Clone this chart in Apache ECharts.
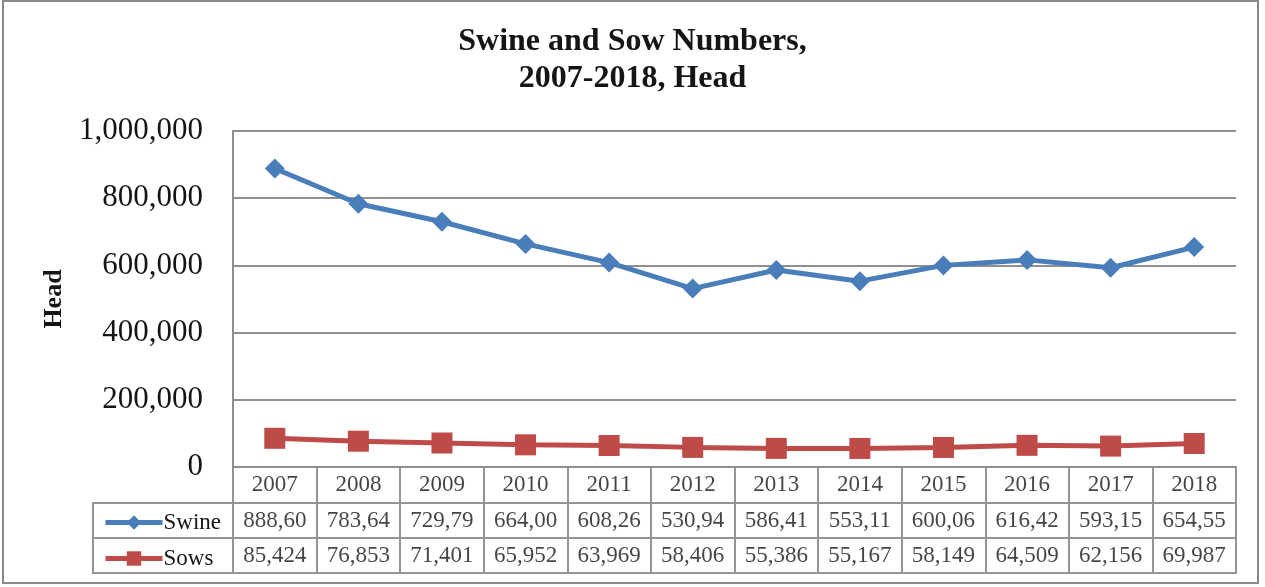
<!DOCTYPE html>
<html>
<head>
<meta charset="utf-8">
<script src="https://cdn.jsdelivr.net/npm/echarts@6/dist/echarts.min.js"></script>
<style>
  html, body { margin: 0; padding: 0; background: #fff; }
  #chart { width: 1265px; height: 587px; }
</style>
</head>
<body>
<div id="chart"></div>
<script>
// Annual head counts
const years = ['2007', '2008', '2009', '2010', '2011', '2012', '2013', '2014', '2015', '2016', '2017', '2018'];
const swine = [888600, 783640, 729790, 664000, 608260, 530940, 586410, 553110, 600060, 616420, 593150, 654550];
const sows = [85424, 76853, 71401, 65952, 63969, 58406, 55386, 55167, 58149, 64509, 62156, 69987];
const yTicks = [0, 200000, 400000, 600000, 800000, 1000000];

const FONT = '"Liberation Serif", "Times New Roman", serif';
const INK = '#151515';
const RULE = '#8f8f8f';
const CELL = '#959595';
const BLUE = '#4a7ebb';
const RED = '#be4b48';

const fmt = v => Math.round(v).toLocaleString('en-US');

const plotLeft = 233, plotRight = 1236, plotTop = 131, plotBottom = 467;
const rowH = [36, 35, 35];
const rowTop = [plotBottom, plotBottom + rowH[0], plotBottom + rowH[0] + rowH[1]];

// one grid per table row, sharing the category columns of the plot
const tableGrids = rowTop.map((t, i) => ({
  left: plotLeft, width: plotRight - plotLeft, top: t, height: rowH[i],
  show: true, borderColor: CELL, borderWidth: 2, backgroundColor: 'transparent'
}));

const tableX = rowTop.map((t, i) => ({
  type: 'category', gridIndex: i + 1, data: years, boundaryGap: true,
  axisLine: { show: false }, axisTick: { show: false }, axisLabel: { show: false },
  splitLine: { show: true, interval: 0, lineStyle: { color: CELL, width: 2 } }
}));
const tableY = rowTop.map((t, i) => ({
  type: 'value', gridIndex: i + 1, min: 0, max: 1, show: false, splitLine: { show: false }
}));

function tableRow(idx, texts) {
  return {
    type: 'scatter', xAxisIndex: idx, yAxisIndex: idx, silent: true,
    symbolSize: 0, tooltip: { show: false },
    data: texts.map((t, i) => [years[i], 0.5]),
    label: {
      show: true, position: 'inside', color: INK, fontFamily: FONT, fontSize: 23,
      width: 70, overflow: 'truncate', ellipsis: '', align: 'center',
      formatter: p => texts[p.dataIndex]
    }
  };
}

const chart = echarts.init(document.getElementById('chart'));
chart.setOption({
  animation: false,
  backgroundColor: '#fff',
  title: {
    text: 'Swine and Sow Numbers,\n2007-2018, Head',
    left: 'center', top: 18,
    textStyle: { fontFamily: FONT, fontWeight: 'bold', fontSize: 32, lineHeight: 37, color: INK }
  },
  legend: {
    orient: 'vertical', left: 98, top: 506,
    itemWidth: 57, itemHeight: 18, itemGap: 13,
    lineStyle: { width: 5 },
    textStyle: { fontFamily: FONT, fontSize: 23, color: INK, padding: [0, 0, 0, -4] },
    data: ['Swine', 'Sows']
  },
  grid: [
    { left: plotLeft, width: plotRight - plotLeft, top: plotTop, height: plotBottom - plotTop },
    ...tableGrids
  ],
  xAxis: [
    {
      type: 'category', gridIndex: 0, data: years, boundaryGap: true,
      axisLine: { show: true, lineStyle: { color: RULE, width: 2 } },
      axisTick: { show: false }, axisLabel: { show: false }
    },
    ...tableX
  ],
  yAxis: [
    {
      type: 'value', gridIndex: 0, min: yTicks[0], max: yTicks[yTicks.length - 1],
      interval: yTicks[1] - yTicks[0],
      name: 'Head', nameLocation: 'middle', nameGap: 166, nameRotate: 90,
      nameTextStyle: { fontFamily: FONT, fontWeight: 'bold', fontSize: 26, color: INK },
      axisLine: { show: true, lineStyle: { color: RULE, width: 2 } },
      axisTick: { show: false },
      axisLabel: { fontFamily: FONT, fontSize: 31, color: INK, margin: 30, formatter: v => fmt(v) },
      splitLine: { lineStyle: { color: RULE, width: 2 } }
    },
    ...tableY
  ],
  graphic: [
    {
      type: 'rect', silent: true,
      shape: { x: 93, y: rowTop[1], width: plotLeft - 93, height: rowH[1] + rowH[2] },
      style: { fill: 'none', stroke: CELL, lineWidth: 2 }
    },
    {
      type: 'line', silent: true,
      shape: { x1: 93, y1: rowTop[2], x2: plotLeft, y2: rowTop[2] },
      style: { stroke: CELL, lineWidth: 2 }
    },
    {
      type: 'rect', silent: true,
      shape: { x: 3, y: 1, width: 1255, height: 582 },
      style: { fill: 'none', stroke: '#8a8a8a', lineWidth: 2 }
    }
  ],
  series: [
    {
      name: 'Swine', type: 'line', xAxisIndex: 0, yAxisIndex: 0, data: swine,
      symbol: 'diamond', symbolSize: 20,
      lineStyle: { color: BLUE, width: 5 }, itemStyle: { color: BLUE }
    },
    {
      name: 'Sows', type: 'line', xAxisIndex: 0, yAxisIndex: 0, data: sows,
      symbol: 'rect', symbolSize: 21,
      lineStyle: { color: RED, width: 5 }, itemStyle: { color: RED }
    },
    tableRow(1, years),
    tableRow(2, swine.map(fmt)),
    tableRow(3, sows.map(fmt))
  ]
});
</script>
</body>
</html>
